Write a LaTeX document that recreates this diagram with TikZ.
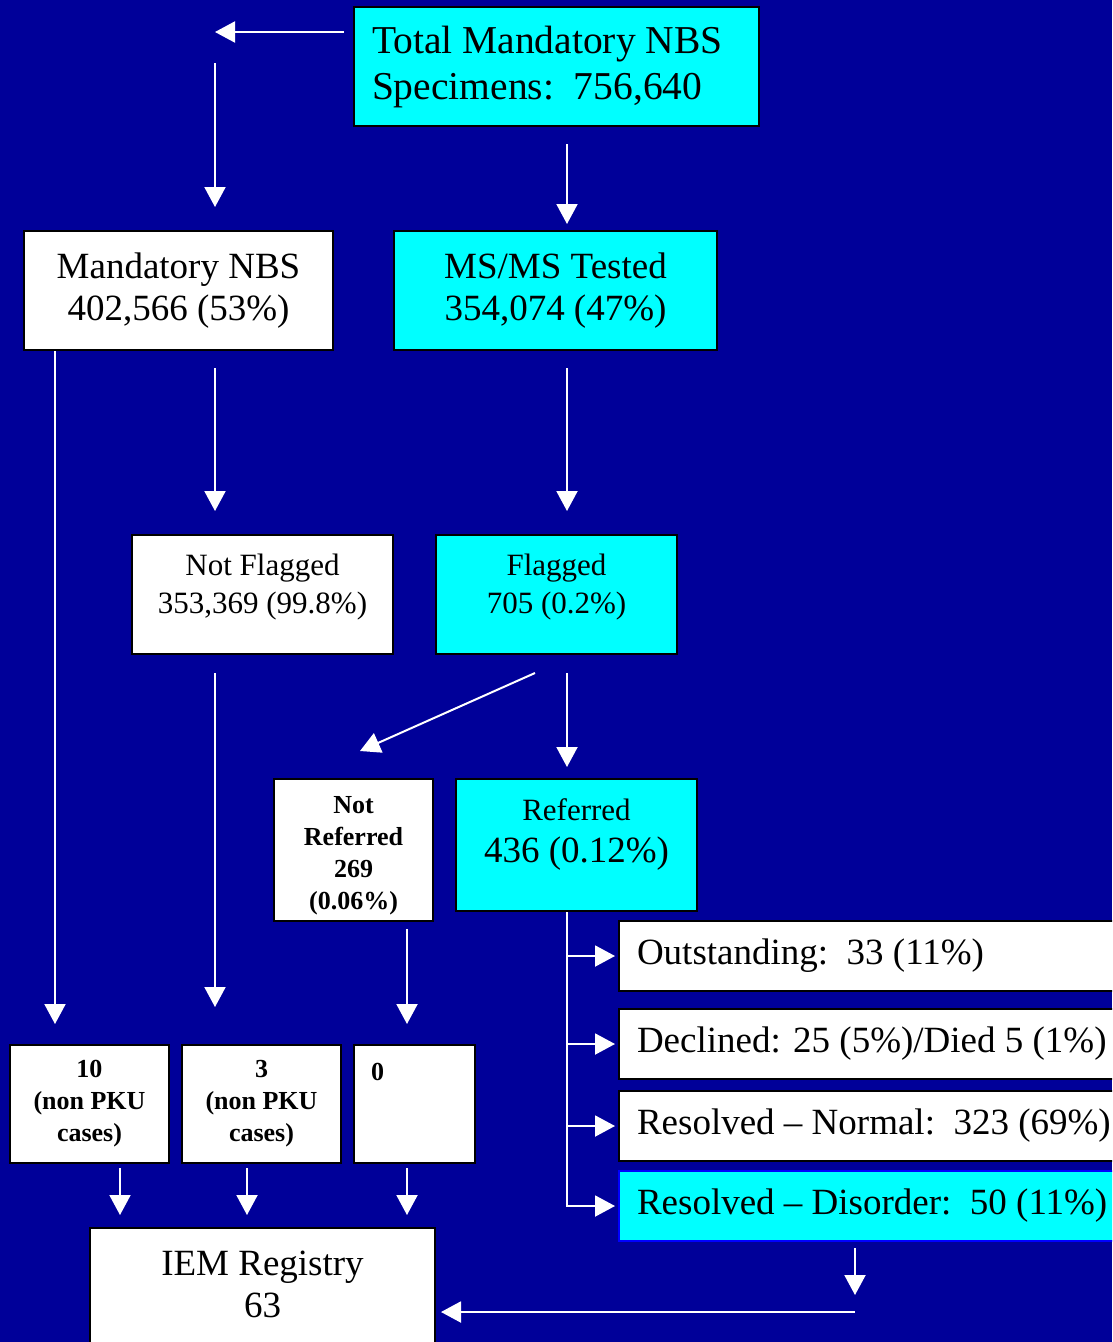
\documentclass[tikz,border=0pt]{standalone}
\usepackage{fontspec}
\setmainfont{Liberation Serif}
\usetikzlibrary{arrows.meta}
\definecolor{bgblue}{RGB}{0,0,153}
\definecolor{boxcyan}{RGB}{0,255,255}
\newcommand\bigsz{\fontsize{39.5pt}{46pt}\selectfont}
\newcommand\midsz{\fontsize{37pt}{42pt}\selectfont}
\newcommand\smallsz{\fontsize{31pt}{38pt}\selectfont}
\newcommand\boldsz{\fontsize{26pt}{32pt}\selectfont\bfseries}
\newcommand\rowsz{\fontsize{37pt}{44pt}\selectfont}

\begin{document}
\begin{tikzpicture}[x=1pt, y=-1pt,
    whitebox/.style={rectangle, draw=black, line width=2pt, fill=white, text centered, align=center, inner sep=0pt},
    cyanbox/.style={whitebox, fill=boxcyan},
    rowbox/.style={whitebox, anchor=west, minimum height=70pt, text width=540pt, inner xsep=18pt, align=flush left, font=\rowsz},
    arrow/.style={draw=white, line width=2pt, -{Triangle[width=21pt,length=20pt]}},
]
\useasboundingbox (0,0) rectangle (1112,1342);
\fill[bgblue] (0,0) rectangle (1112,1342);
\clip (0,0) rectangle (1112,1342);

% Top
\node[cyanbox, minimum height=119pt, text width=369pt, inner xsep=18pt, align=flush left, font=\bigsz] (total) at (556.5,66.5) {Total Mandatory NBS\\Specimens:~~756,640};
\node[whitebox, minimum width=309pt, minimum height=119pt, font=\midsz] (mandatory) at (178.5,290.5) {Mandatory NBS\\402,566 (53\%)};
\node[cyanbox, minimum width=323pt, minimum height=119pt, font=\midsz] (msms) at (555.5,290.5) {MS/MS Tested\\354,074 (47\%)};

% Flagging
\node[whitebox, minimum width=261pt, minimum height=119pt, text depth=21pt, font=\smallsz] (notFlagged) at (262.5,594.5) {Not Flagged\\353,369 (99.8\%)};
\node[cyanbox, minimum width=241pt, minimum height=119pt, text depth=21pt, font=\smallsz] (flagged) at (556.5,594.5) {Flagged\\705 (0.2\%)};
\node[whitebox, minimum width=159pt, minimum height=142pt, font=\boldsz] (notReferred) at (353.5,850) {\rule{0pt}{29pt}Not\\Referred\\269\\(0.06\%)};
\node[cyanbox, minimum width=241pt, minimum height=132pt, text depth=28pt, font=\midsz] (referred) at (576.5,845) {{\smallsz Referred}\\436 (0.12\%)};

% Outcomes of referral
\node[rowbox] (outstanding) at (618,956) {Outstanding:~~33 (11\%)};
\node[rowbox] (declined) at (618,1044) {Declined: 25 (5\%)/Died 5 (1\%)};
\node[rowbox] (normal) at (618,1126) {Resolved – Normal:~~323 (69\%)};
\node[rowbox, fill=boxcyan, draw=blue] (disorder) at (618,1206) {Resolved – Disorder:~~50 (11\%)};

% Cases and registry
\node[whitebox, minimum width=159pt, minimum height=118pt, font=\boldsz] (tenCases) at (89.5,1104) {10\\(non PKU\\cases)};
\node[whitebox, minimum width=159pt, minimum height=118pt, font=\boldsz] (threeCases) at (261.5,1104) {3\\(non PKU\\cases)};
\node[whitebox, minimum width=121pt, minimum height=118pt, text width=87pt, inner xsep=17pt, align=flush left, font=\boldsz] (zeroCases) at (414.5,1104) {0\\\mbox{}\\\mbox{}};
\node[whitebox, anchor=north, minimum width=345pt, inner ysep=23pt, text depth=60pt, font=\midsz] (registry) at (262.5,1227) {IEM Registry\\63};

\coordinate (corner) at (215,32);
\coordinate (colA) at (55,0);
\coordinate (colB) at (215,0);
\coordinate (colC) at (567,0);
\coordinate (colD) at (407,0);
\coordinate (colE) at (120,0);
\coordinate (colF) at (247,0);
\coordinate (dropEnd) at (855,1295);
\coordinate (returnStart) at (855,1312);

% Arrows from the total
\draw[arrow, shorten <=9pt] (total.west |- corner) -- (corner);
\draw[arrow, shorten <=31pt, shorten >=23pt] (corner) -- (corner |- mandatory.north);
\draw[arrow, shorten <=17pt, shorten >=6pt] (total.south -| colC) -- (msms.north -| colC);

% Arrows for mandatory NBS
\draw[arrow, shorten >=20pt] (mandatory.south -| colA) -- (tenCases.north -| colA);
\draw[arrow, shorten <=17pt, shorten >=23pt] (mandatory.south -| colB) -- (notFlagged.north -| colB);
\draw[arrow, shorten <=18pt, shorten >=37pt] (notFlagged.south -| colB) -- (threeCases.north -| colB);

% Arrows for MS/MS
\draw[arrow, shorten <=17pt, shorten >=23pt] (msms.south -| colC) -- (flagged.north -| colC);
\draw[arrow] ([xshift=-21.5pt, yshift=-18pt]flagged.south) -- ([xshift=6.5pt, yshift=27pt]notReferred.north);
\draw[arrow, shorten <=18pt, shorten >=11pt] (flagged.south -| colC) -- (referred.north -| colC);
\draw[arrow, shorten <=7pt, shorten >=20pt] (notReferred.south -| colD) -- (zeroCases.north -| colD);

% Arrows for referred
\foreach \outcome in {outstanding, declined, normal, disorder}
  \draw[arrow, shorten >=3pt] (referred.south -| colC) |- (\outcome.west);

% Arrows into the registry
\draw[arrow, shorten <=4pt, shorten >=12pt] (tenCases.south -| colE) -- (registry.north -| colE);
\draw[arrow, shorten <=4pt, shorten >=12pt] (threeCases.south -| colF) -- (registry.north -| colF);
\draw[arrow, shorten <=4pt, shorten >=12pt] (zeroCases.south -| colD) -- (registry.north -| colD);
\draw[arrow, shorten <=6pt] (disorder.south -| dropEnd) -- (dropEnd);
\draw[arrow, shorten >=5pt] (returnStart) -- (registry.east |- returnStart);

\end{tikzpicture}
\end{document}
